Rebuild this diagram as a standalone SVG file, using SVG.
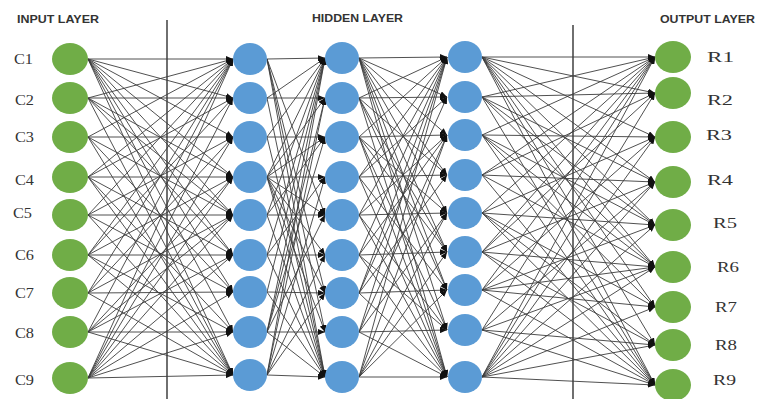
<svg xmlns="http://www.w3.org/2000/svg" width="757" height="399" viewBox="0 0 757 399">
<style>
.title{font-family:"Liberation Sans",Arial,sans-serif;font-weight:bold;font-size:10.5px;fill:#333}
.lbl{font-family:"Liberation Serif","Times New Roman",serif;font-size:14px;fill:#333}
.in,.out{fill:#70ad47}
.hid{fill:#5b9bd5}
.e path{fill:none;stroke:#3c3c3c;stroke-width:0.9;marker-end:url(#ah)}
.sep{stroke:#222;stroke-width:1.3}
</style>
<defs>
<marker id="ah" markerUnits="userSpaceOnUse" markerWidth="7" markerHeight="6" refX="7" refY="3" orient="auto">
<path d="M0,0L7,3L0,6z" fill="#111"/>
</marker>
</defs>
<rect width="757" height="399" fill="#fff"/>
<text class="title" x="17" y="23" textLength="82" lengthAdjust="spacingAndGlyphs">INPUT LAYER</text>
<text class="title" x="312" y="22" textLength="91" lengthAdjust="spacingAndGlyphs">HIDDEN LAYER</text>
<text class="title" x="660" y="23" textLength="95" lengthAdjust="spacingAndGlyphs">OUTPUT LAYER</text>
<g id="separators">
<line class="sep" x1="167" y1="20" x2="167" y2="399"/>
<line class="sep" x1="573" y1="25" x2="573" y2="399"/>
</g>
<g id="connectors" class="e">
<path d="M88 59L233 59"/><path d="M88 59L233 98"/><path d="M88 59L233 137"/><path d="M88 59L233 177"/><path d="M88 59L233 215"/><path d="M88 59L233 255"/><path d="M88 59L233 292"/><path d="M88 59L233 332"/><path d="M88 59L233 375"/>
<path d="M88 378L233 59"/><path d="M88 378L233 98"/><path d="M88 378L233 137"/><path d="M88 378L233 177"/><path d="M88 378L233 215"/><path d="M88 378L233 255"/><path d="M88 378L233 292"/><path d="M88 378L233 332"/><path d="M88 378L233 375"/>
<path d="M88 98L233 59"/><path d="M88 137L233 59"/><path d="M88 177L233 59"/><path d="M88 215L233 59"/><path d="M88 255L233 59"/><path d="M88 293L233 59"/><path d="M88 332L233 59"/>
<path d="M88 98L233 375"/><path d="M88 137L233 375"/><path d="M88 177L233 375"/><path d="M88 215L233 375"/><path d="M88 255L233 375"/><path d="M88 293L233 375"/><path d="M88 332L233 375"/>
<path d="M88 98L233 98"/><path d="M88 137L233 137"/><path d="M88 177L233 177"/><path d="M88 215L233 215"/><path d="M88 255L233 255"/><path d="M88 293L233 292"/><path d="M88 332L233 332"/>
<path d="M88 98L233 177"/><path d="M88 98L233 255"/><path d="M88 137L233 215"/><path d="M88 137L233 292"/><path d="M88 177L233 98"/><path d="M88 177L233 255"/><path d="M88 215L233 137"/><path d="M88 215L233 292"/><path d="M88 255L233 177"/><path d="M88 255L233 332"/><path d="M88 293L233 137"/><path d="M88 293L233 215"/><path d="M88 332L233 177"/><path d="M88 332L233 255"/><path d="M88 98L233 215"/><path d="M88 255L233 98"/><path d="M88 177L233 332"/><path d="M88 332L233 215"/>

<path d="M267 59L325 58"/><path d="M267 98L325 98"/><path d="M267 137L325 137"/><path d="M267 177L325 177"/><path d="M267 215L325 215"/><path d="M267 255L325 255"/><path d="M267 292L325 293"/><path d="M267 332L325 332"/><path d="M267 375L325 377"/>
<path d="M267 59L325 215"/><path d="M267 59L325 293"/><path d="M267 59L325 332"/><path d="M267 59L325 377"/>
<path d="M267 98L325 58"/><path d="M267 137L325 58"/><path d="M267 177L325 58"/><path d="M267 215L325 58"/><path d="M267 255L325 58"/><path d="M267 292L325 58"/><path d="M267 332L325 58"/><path d="M267 375L325 58"/>
<path d="M267 98L325 377"/><path d="M267 137L325 377"/><path d="M267 177L325 377"/><path d="M267 215L325 377"/><path d="M267 255L325 377"/><path d="M267 292L325 377"/><path d="M267 332L325 377"/>
<path d="M267 177L325 98"/><path d="M267 177L325 137"/><path d="M267 177L325 215"/><path d="M267 177L325 255"/><path d="M267 177L325 293"/><path d="M267 177L325 332"/>
<path d="M267 332L325 98"/><path d="M267 332L325 137"/><path d="M267 332L325 215"/>
<path d="M267 375L325 98"/><path d="M267 375L325 177"/><path d="M267 375L325 255"/><path d="M267 375L325 293"/>
<path d="M267 215L325 137"/><path d="M267 255L325 177"/>

<path d="M359 58L447 57"/><path d="M359 98L447 97"/><path d="M359 137L447 135"/><path d="M359 177L447 175"/><path d="M359 215L447 213"/><path d="M359 255L447 252"/><path d="M359 293L447 290"/><path d="M359 332L447 330"/><path d="M359 377L447 377"/>
<path d="M359 58L447 97"/><path d="M359 58L447 135"/><path d="M359 58L447 175"/><path d="M359 58L447 213"/><path d="M359 58L447 252"/><path d="M359 58L447 290"/><path d="M359 58L447 330"/><path d="M359 58L447 377"/>
<path d="M359 98L447 57"/><path d="M359 137L447 57"/><path d="M359 177L447 57"/><path d="M359 215L447 57"/><path d="M359 255L447 57"/><path d="M359 293L447 57"/><path d="M359 332L447 57"/><path d="M359 377L447 57"/>
<path d="M359 98L447 377"/><path d="M359 137L447 377"/><path d="M359 177L447 377"/><path d="M359 215L447 377"/><path d="M359 255L447 377"/><path d="M359 293L447 377"/><path d="M359 332L447 377"/>
<path d="M359 98L447 175"/><path d="M359 98L447 252"/><path d="M359 137L447 213"/><path d="M359 137L447 330"/><path d="M359 177L447 97"/><path d="M359 177L447 290"/><path d="M359 215L447 135"/><path d="M359 215L447 330"/><path d="M359 255L447 135"/><path d="M359 255L447 330"/><path d="M359 293L447 175"/><path d="M359 293L447 97"/><path d="M359 332L447 213"/><path d="M359 332L447 135"/><path d="M359 377L447 213"/><path d="M359 377L447 135"/><path d="M359 377L447 252"/><path d="M359 377L447 290"/><path d="M359 98L447 290"/><path d="M359 137L447 252"/>

<path d="M482 57L655 57"/><path d="M482 57L655 93"/><path d="M482 57L655 137"/><path d="M482 57L655 182"/><path d="M482 57L655 225"/><path d="M482 57L655 267"/><path d="M482 57L655 307"/><path d="M482 57L655 345"/><path d="M482 57L655 385"/>
<path d="M482 377L655 57"/><path d="M482 377L655 93"/><path d="M482 377L655 137"/><path d="M482 377L655 182"/><path d="M482 377L655 225"/><path d="M482 377L655 267"/><path d="M482 377L655 307"/><path d="M482 377L655 345"/><path d="M482 377L655 385"/>
<path d="M482 97L655 57"/><path d="M482 135L655 57"/><path d="M482 175L655 57"/><path d="M482 213L655 57"/><path d="M482 252L655 57"/><path d="M482 290L655 57"/><path d="M482 330L655 57"/>
<path d="M482 97L655 385"/><path d="M482 135L655 385"/><path d="M482 175L655 385"/><path d="M482 213L655 385"/><path d="M482 252L655 385"/><path d="M482 290L655 385"/><path d="M482 330L655 385"/>
<path d="M482 97L655 93"/><path d="M482 135L655 137"/><path d="M482 175L655 182"/><path d="M482 213L655 225"/><path d="M482 252L655 267"/><path d="M482 290L655 307"/><path d="M482 330L655 345"/>
<path d="M482 97L655 182"/><path d="M482 97L655 267"/><path d="M482 135L655 225"/><path d="M482 135L655 307"/><path d="M482 175L655 93"/><path d="M482 175L655 267"/><path d="M482 213L655 137"/><path d="M482 213L655 307"/><path d="M482 252L655 182"/><path d="M482 252L655 345"/><path d="M482 290L655 137"/><path d="M482 290L655 225"/><path d="M482 330L655 182"/><path d="M482 330L655 267"/><path d="M482 97L655 225"/><path d="M482 252L655 93"/><path d="M482 135L655 267"/><path d="M482 290L655 267"/><path d="M482 213L655 345"/>
</g>
<g id="input-layer">
<g id="C1"><ellipse class="in" cx="70" cy="59" rx="18" ry="16"/><text class="lbl" x="14" y="64" textLength="19" lengthAdjust="spacingAndGlyphs">C1</text></g>
<g id="C2"><ellipse class="in" cx="70" cy="98" rx="18" ry="16"/><text class="lbl" x="15" y="105" textLength="19" lengthAdjust="spacingAndGlyphs">C2</text></g>
<g id="C3"><ellipse class="in" cx="70" cy="137" rx="18" ry="16"/><text class="lbl" x="15" y="142" textLength="19" lengthAdjust="spacingAndGlyphs">C3</text></g>
<g id="C4"><ellipse class="in" cx="70" cy="177" rx="18" ry="16"/><text class="lbl" x="15" y="185" textLength="19" lengthAdjust="spacingAndGlyphs">C4</text></g>
<g id="C5"><ellipse class="in" cx="70" cy="215" rx="18" ry="16"/><text class="lbl" x="13" y="218" textLength="19" lengthAdjust="spacingAndGlyphs">C5</text></g>
<g id="C6"><ellipse class="in" cx="70" cy="255" rx="18" ry="16"/><text class="lbl" x="15" y="260" textLength="19" lengthAdjust="spacingAndGlyphs">C6</text></g>
<g id="C7"><ellipse class="in" cx="70" cy="293" rx="18" ry="16"/><text class="lbl" x="15" y="298" textLength="19" lengthAdjust="spacingAndGlyphs">C7</text></g>
<g id="C8"><ellipse class="in" cx="70" cy="332" rx="18" ry="16"/><text class="lbl" x="15" y="338" textLength="19" lengthAdjust="spacingAndGlyphs">C8</text></g>
<g id="C9"><ellipse class="in" cx="70" cy="378" rx="18" ry="16"/><text class="lbl" x="15" y="385" textLength="19" lengthAdjust="spacingAndGlyphs">C9</text></g>
</g>
<g id="hidden-layer-1">
<ellipse id="H1-1" class="hid" cx="250" cy="59" rx="17" ry="16"/>
<ellipse id="H1-2" class="hid" cx="250" cy="98" rx="17" ry="16"/>
<ellipse id="H1-3" class="hid" cx="250" cy="137" rx="17" ry="16"/>
<ellipse id="H1-4" class="hid" cx="250" cy="177" rx="17" ry="16"/>
<ellipse id="H1-5" class="hid" cx="250" cy="215" rx="17" ry="16"/>
<ellipse id="H1-6" class="hid" cx="250" cy="255" rx="17" ry="16"/>
<ellipse id="H1-7" class="hid" cx="250" cy="292" rx="17" ry="16"/>
<ellipse id="H1-8" class="hid" cx="250" cy="332" rx="17" ry="16"/>
<ellipse id="H1-9" class="hid" cx="250" cy="375" rx="17" ry="16"/>
</g>
<g id="hidden-layer-2">
<ellipse id="H2-1" class="hid" cx="342" cy="58" rx="17" ry="16"/>
<ellipse id="H2-2" class="hid" cx="342" cy="98" rx="17" ry="16"/>
<ellipse id="H2-3" class="hid" cx="342" cy="137" rx="17" ry="16"/>
<ellipse id="H2-4" class="hid" cx="342" cy="177" rx="17" ry="16"/>
<ellipse id="H2-5" class="hid" cx="342" cy="215" rx="17" ry="16"/>
<ellipse id="H2-6" class="hid" cx="342" cy="255" rx="17" ry="16"/>
<ellipse id="H2-7" class="hid" cx="342" cy="293" rx="17" ry="16"/>
<ellipse id="H2-8" class="hid" cx="342" cy="332" rx="17" ry="16"/>
<ellipse id="H2-9" class="hid" cx="342" cy="377" rx="17" ry="16"/>
</g>
<g id="hidden-layer-3">
<ellipse id="H3-1" class="hid" cx="465" cy="57" rx="17" ry="16"/>
<ellipse id="H3-2" class="hid" cx="465" cy="97" rx="17" ry="16"/>
<ellipse id="H3-3" class="hid" cx="465" cy="135" rx="17" ry="16"/>
<ellipse id="H3-4" class="hid" cx="465" cy="175" rx="17" ry="16"/>
<ellipse id="H3-5" class="hid" cx="465" cy="213" rx="17" ry="16"/>
<ellipse id="H3-6" class="hid" cx="465" cy="252" rx="17" ry="16"/>
<ellipse id="H3-7" class="hid" cx="465" cy="290" rx="17" ry="16"/>
<ellipse id="H3-8" class="hid" cx="465" cy="330" rx="17" ry="16"/>
<ellipse id="H3-9" class="hid" cx="465" cy="377" rx="17" ry="16"/>
</g>
<g id="output-layer">
<g id="R1"><ellipse class="out" cx="673" cy="57" rx="18" ry="16"/><text class="lbl" x="707" y="62" textLength="27" lengthAdjust="spacingAndGlyphs">R1</text></g>
<g id="R2"><ellipse class="out" cx="673" cy="93" rx="18" ry="16"/><text class="lbl" x="707" y="105" textLength="26" lengthAdjust="spacingAndGlyphs">R2</text></g>
<g id="R3"><ellipse class="out" cx="673" cy="137" rx="18" ry="16"/><text class="lbl" x="706" y="140" textLength="26" lengthAdjust="spacingAndGlyphs">R3</text></g>
<g id="R4"><ellipse class="out" cx="673" cy="182" rx="18" ry="16"/><text class="lbl" x="707" y="185" textLength="26" lengthAdjust="spacingAndGlyphs">R4</text></g>
<g id="R5"><ellipse class="out" cx="673" cy="225" rx="18" ry="16"/><text class="lbl" x="713" y="228" textLength="24" lengthAdjust="spacingAndGlyphs">R5</text></g>
<g id="R6"><ellipse class="out" cx="673" cy="267" rx="18" ry="16"/><text class="lbl" x="717" y="272" textLength="22" lengthAdjust="spacingAndGlyphs">R6</text></g>
<g id="R7"><ellipse class="out" cx="673" cy="307" rx="18" ry="16"/><text class="lbl" x="715" y="312" textLength="22" lengthAdjust="spacingAndGlyphs">R7</text></g>
<g id="R8"><ellipse class="out" cx="673" cy="345" rx="18" ry="16"/><text class="lbl" x="715" y="350" textLength="22" lengthAdjust="spacingAndGlyphs">R8</text></g>
<g id="R9"><ellipse class="out" cx="673" cy="385" rx="18" ry="16"/><text class="lbl" x="713" y="385" textLength="23" lengthAdjust="spacingAndGlyphs">R9</text></g>
</g>
</svg>
